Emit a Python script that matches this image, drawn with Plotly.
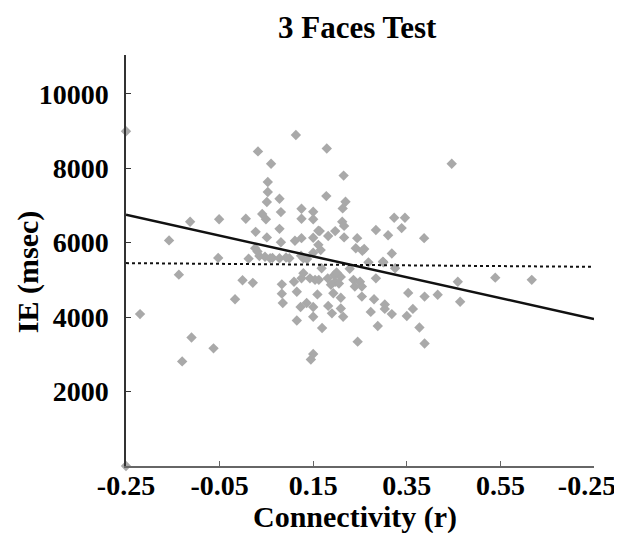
import plotly.graph_objects as go

# Connectivity (r) and IE (msec) for each subject
conn_r = [
    -0.25, -0.25, -0.220, -0.158, -0.137, -0.113, -0.051, -0.053, -0.017, -0.110, -0.063, -0.130,
    -0.001, 0.021, 0.012, 0.027, 0.035, 0.051, 0.063, 0.078, 0.083, 0.083, 0.085, 0.078, 0.081,
    0.006, 0.041, 0.049, 0.053, 0.053, 0.051, 0.078, 0.081, 0.032, 0.060, 0.113, 0.026, 0.031,
    0.047, 0.099, 0.129, 0.109, 0.125, 0.129, 0.143, 0.154, 0.115, 0.159, 0.123, 0.136, 0.150,
    0.150, 0.115, 0.150, 0.145, 0.125, 0.150, 0.125, 0.150, 0.111, 0.125, 0.150, 0.161, 0.124,
    0.150, 0.169, 0.179, 0.215, 0.178, 0.219, 0.213, 0.212, 0.216, 0.323, 0.346, 0.164, 0.182,
    0.197, 0.284, 0.310, 0.339, 0.216, 0.244, 0.161, 0.166, 0.241, 0.259, 0.318, 0.268, 0.300,
    0.325, 0.168, 0.162, 0.181, 0.195, 0.209, 0.197, 0.236, 0.250, 0.284, 0.239, 0.254, 0.193,
    0.209, 0.254, 0.280, 0.182, 0.209, 0.190, 0.214, 0.303, 0.303, 0.273, 0.318, 0.288, 0.245,
    0.446, 0.387, 0.459, 0.539, 0.617, 0.353, 0.388, 0.416, 0.464, 0.363, 0.350, 0.377, 0.388,
    0.255, 0.200, 0.205, 0.058, 0.299, 0.092, 0.137, 0.188, 0.228,
]
ie_msec = [
    8990, 0, 4080, 6060, 5140, 6560, 6630, 5590, 4480, 3450, 3160, 2810,
    4990, 4920, 5570, 6290, 5640, 6140, 5590, 5580, 4880, 4630, 4380, 6370, 6010,
    6640, 6770, 6630, 7630, 7360, 7090, 7180, 6820, 8450, 8120, 8890, 5850, 5760,
    5620, 5580, 5580, 4950, 5040, 5180, 5040, 5000, 4680, 4610, 4270, 4380, 4270,
    4010, 3910, 3010, 2860, 6910, 6830, 6640, 6630, 6050, 6120, 6130, 6320, 5650,
    5730, 3705, 8530, 7800, 7250, 7100, 6920, 6560, 6450, 6670, 6670, 6310, 6180,
    6310, 6340, 6200, 6390, 6140, 6120, 5940, 5800, 5850, 5830, 5710, 5470, 5470,
    5310, 5310, 5000, 5040, 5130, 5080, 4950, 5000, 4950, 5040, 4820, 4820, 4640,
    4520, 4550, 4480, 4300, 4230, 4100, 4010, 4340, 4220, 4140, 4080, 3760, 3340,
    8120, 6120, 4950, 5060, 5000, 4650, 4550, 4600, 4410, 4220, 4030, 3720, 3290,
    5780, 5200, 4900, 5580, 5490, 5600, 5560, 4870, 5300,
]

# regression lines
fit_x = [-0.25, 0.75]
fit_solid_y = [6750, 3950]
fit_dotted_y = [5450, 5350]

x_tickvals = [-0.25, -0.05, 0.15, 0.35, 0.55, 0.75]
x_ticktext = ["-0.25", "-0.05", "0.15", "0.35", "0.55", "-0.25\u00a0\u00a0"]
y_tickvals = [2000, 4000, 6000, 8000, 10000]
y_ticktext = ["2000", "4000", "6000", "8000", "10000"]

chart_title = "3 Faces Test"
x_title = "Connectivity (r)"
y_title = "IE (msec)"

FONT = "Liberation Serif"

fig = go.Figure()
fig.add_trace(go.Scatter(
    x=conn_r, y=ie_msec, mode="markers",
    marker=dict(symbol="diamond", size=8, color="#a9a9a9", line=dict(width=0)),
    cliponaxis=False, showlegend=False,
))
fig.add_trace(go.Scatter(
    x=fit_x, y=fit_dotted_y, mode="lines",
    line=dict(color="#111111", width=2, dash="dot"), showlegend=False,
))
fig.add_trace(go.Scatter(
    x=fit_x, y=fit_solid_y, mode="lines",
    line=dict(color="#111111", width=2.5), showlegend=False,
))

fig.update_layout(
    width=614, height=525,
    margin=dict(l=118, r=28, t=47, b=67, autoexpand=False),
    paper_bgcolor="white", plot_bgcolor="white",
    font=dict(family=FONT, color="black"),
    xaxis=dict(
        range=[-0.25, 0.75], tickvals=x_tickvals, ticktext=x_ticktext, automargin=False,
        showgrid=False, zeroline=False, showline=True, linecolor="#666666", linewidth=1.5,
        ticks="inside", ticklen=5, tickcolor="#666666", ticklabelstandoff=-6,
        ticklabeloverflow="allow",
        tickfont=dict(family=FONT, size=28, color="black", weight="bold"),
    ),
    yaxis=dict(
        range=[0, 11040], tickvals=y_tickvals, ticktext=y_ticktext, automargin=False,
        showgrid=False, zeroline=False, showline=True, linecolor="#333333", linewidth=1.5,
        ticks="inside", ticklen=5, tickcolor="#333333", ticklabelstandoff=10,
        tickfont=dict(family=FONT, size=28, color="black", weight="bold"),
    ),
    annotations=[
        dict(text="<b>%s</b>" % chart_title, xref="paper", yref="paper", x=0.494, y=1.068,
             xanchor="center", yanchor="middle", showarrow=False,
             font=dict(family=FONT, size=31, color="black")),
        dict(text="<b>%s</b>" % x_title, xref="paper", yref="paper", x=0.489, y=-0.123,
             xanchor="center", yanchor="middle", showarrow=False,
             font=dict(family=FONT, size=30, color="black")),
        dict(text="<b>%s</b>" % y_title, xref="paper", yref="paper", x=-0.209, y=0.472,
             xanchor="center", yanchor="middle", showarrow=False, textangle=-90,
             font=dict(family=FONT, size=30, color="black")),
    ],
)

fig.write_html("out.html")
